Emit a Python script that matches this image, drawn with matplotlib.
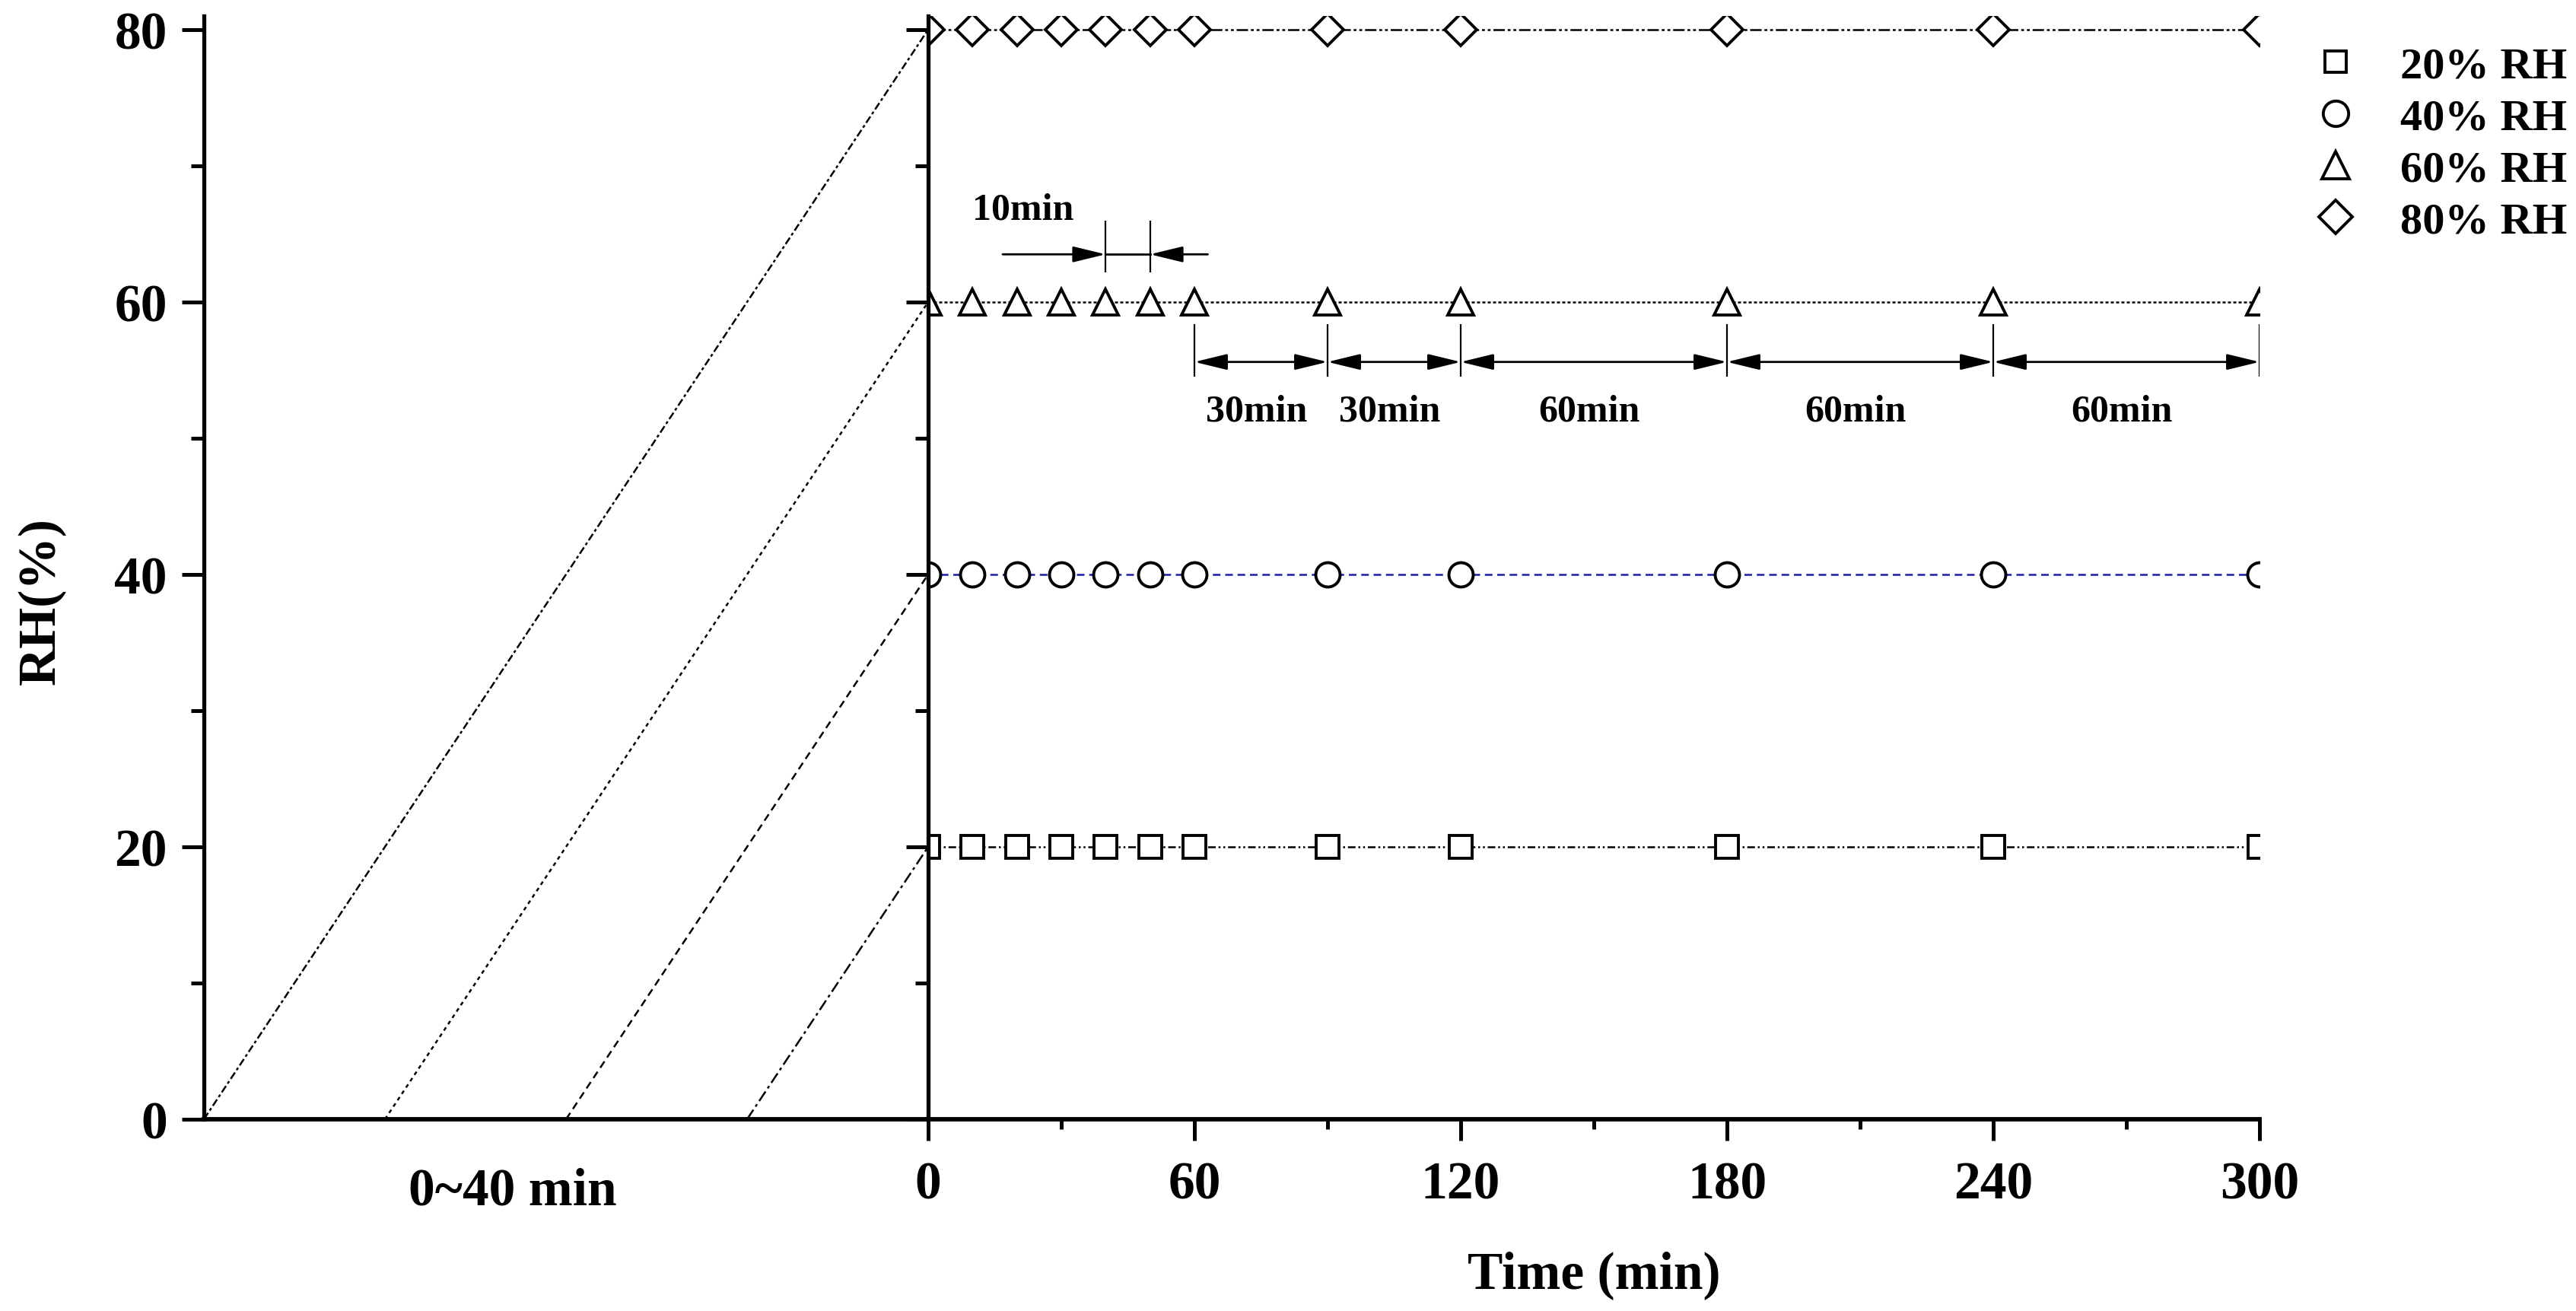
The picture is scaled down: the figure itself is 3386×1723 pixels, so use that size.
import matplotlib
matplotlib.use('Agg')
import matplotlib.pyplot as plt
from matplotlib.lines import Line2D

# data
levels = [20, 40, 60, 80]
level_labels = ['20% RH', '40% RH', '60% RH', '80% RH']
ramp_minutes = [10, 20, 30, 40]          # time to reach each level (0~40 min part)
sample_times = [0, 10, 20, 30, 40, 50, 60, 90, 120, 180, 240, 300]
interval_edges = [60, 90, 120, 180, 240, 300]
interval_labels = ['30min', '30min', '60min', '60min', '60min']

plt.rcParams['font.family'] = ['Liberation Serif', 'DejaVu Serif']
plt.rcParams['font.weight'] = 'bold'
plt.rcParams['axes.labelweight'] = 'bold'

W, H = 3387, 1724
fig = plt.figure(figsize=(W/200, H/200), dpi=200, facecolor='white')
ax1 = fig.add_axes((268/W, 252/H, 952/W, 1450/H))
ax2 = fig.add_axes((1220/W, 252/H, 1750/W, 1450/H))

markers = ['s', 'o', '^', 'D']
msizes = [10.5, 11.5, 12.5, 10.5]
colors = ['black', '#1c1ca8', 'black', 'black']
styles = [(0, (4, 1.5, 1, 1.5, 1, 1.5)), (0, (4, 2.5)), (0, (1.6, 1.2)), (0, (6, 1.5, 1.5, 1.5, 1.5, 1.5))]
ramp_styles = [(0, (6, 2, 1.5, 2)), (0, (4, 2.5)), (0, (2, 2)), (0, (4, 1.5, 1.5, 1.5))]

#left part: ramps
for lvl, m, ls in zip(levels, ramp_minutes, ramp_styles):
    ax1.plot([-m, 0], [0, lvl], color='black', lw=0.9, ls=ls)

#right part: constant RH
for lvl, mk, ms, c, ls in zip(levels, markers, msizes, colors, styles):
    ax2.plot(sample_times, [lvl]*len(sample_times), color=c, lw=0.9, ls=ls,
             marker=mk, ms=ms, mfc='white', mec='black', mew=1.4)

for ax in (ax1, ax2):
    ax.set_ylim(0, 81)
    ax.spines['top'].set_visible(False)
    ax.spines['right'].set_visible(False)
    ax.spines['left'].set_linewidth(1.9)
    ax.spines['bottom'].set_linewidth(2.1)
    ax.set_yticks(range(0, 81, 20))
    ax.set_yticks(range(10, 80, 20), minor=True)
    ax.tick_params(axis='y', which='major', direction='out', length=10.4, width=1.8, labelsize=25, pad=7)
    ax.tick_params(axis='y', which='minor', direction='out', length=6, width=1.8)

ax1.set_xlim(-40, 0)
ax1.set_xticks([])
ax1.set_ylabel('RH(%)', fontsize=25)
ax1.yaxis.set_label_coords(-0.19, 0.47)
ax1.set_xlabel('0~40 min', fontsize=25)
ax1.xaxis.set_label_coords(0.426, -0.043)

ax2.set_xlim(0, 300)
ax2.tick_params(axis='y', labelleft=False)
ax2.set_xticks(range(0, 301, 60))
ax2.set_xticks(range(30, 300, 60), minor=True)
ax2.tick_params(axis='x', which='major', direction='out', length=10, width=1.8, labelsize=25, pad=9.7)
ax2.tick_params(axis='x', which='minor', direction='out', length=4.7, width=1.8)
ax2.set_xlabel('Time (min)', fontsize=25)
ax2.xaxis.set_label_coords(0.5, -0.119)

arrow = dict(arrowstyle='-|>,head_length=0.66,head_width=0.16', mutation_scale=20,
             color='black', lw=1.0, shrinkA=0, shrinkB=0)
darrow = dict(arrow, arrowstyle='<|-|>,head_length=0.66,head_width=0.16')

# 10 min step
t_a, t_b = sample_times[4], sample_times[5]
ax2.vlines([t_a, t_b], 62.2, 66.0, color='black', lw=0.8)
ax2.plot([t_a, t_b], [63.5, 63.5], color='black', lw=1.0)
ax2.annotate('', xy=(t_a, 63.5), xytext=(16.8, 63.5), arrowprops=arrow)
ax2.annotate('', xy=(t_b, 63.5), xytext=(63, 63.5), arrowprops=arrow)
ax2.text(21.3, 66.8, '10min', fontsize=18, ha='center', va='center')

# 30/60 min steps
ax2.vlines(interval_edges, 54.5, 58.4, color='black', lw=0.8)
for x0, x1, lab in zip(interval_edges[:-1], interval_edges[1:], interval_labels):
    ax2.annotate('', xy=(x1, 55.6), xytext=(x0, 55.6), arrowprops=darrow)
    ax2.text((x0+x1)/2 - 1, 52.0, lab, fontsize=18, ha='center', va='center')

leg_sizes = [10, 12, 13, 11]
handles = [Line2D([], [], ls='none', marker=mk, ms=s, mfc='white', mec='black', mew=1.4)
           for mk, s in zip(markers, leg_sizes)]
fig.legend(handles, level_labels, loc='center left', bbox_to_anchor=(3041/W, 1-190/H),
           frameon=False, fontsize=21, handlelength=1.0, handletextpad=0.955,
           labelspacing=0.256, borderpad=0, borderaxespad=0)

fig.savefig('out.png', dpi=200, facecolor='white')
